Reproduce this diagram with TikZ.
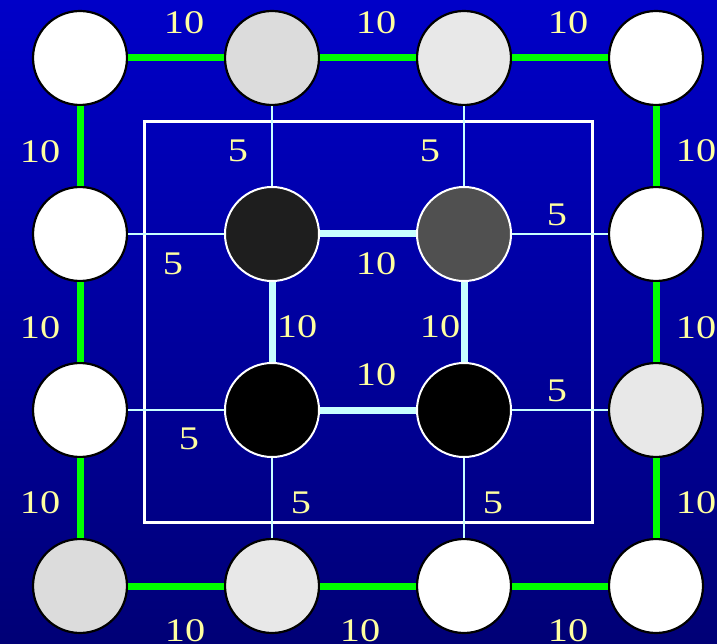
\documentclass[tikz,border=0pt]{standalone}
\usepackage{fontspec}
\newfontfamily\labfont[FakeStretch=1.22]{Liberation Serif}
\definecolor{bgtop}{RGB}{0,0,200}
\definecolor{bgbot}{RGB}{0,0,118}
\definecolor{labcol}{RGB}{255,255,160}
\definecolor{cyanl}{RGB}{200,255,255}
\definecolor{lgreen}{RGB}{0,255,0}
\definecolor{gA}{RGB}{220,220,220}
\definecolor{gB}{RGB}{232,232,232}
\definecolor{dA}{RGB}{30,30,30}
\definecolor{dB}{RGB}{80,80,80}
\begin{document}
\begin{tikzpicture}[x=1pt,y=-1pt,
  outernode/.style={circle,draw=black,line width=2.2pt,minimum size=94pt,inner sep=0pt},
  innernode/.style={circle,draw=white,line width=2pt,minimum size=94pt,inner sep=0pt},
  greenedge/.style={draw=lgreen,line width=7pt},
  thickedge/.style={draw=cyanl,line width=7pt},
  thinedge/.style={draw=cyanl,line width=1.5pt},
  frame/.style={draw=white,line width=3pt},
  lbl/.style={text=labcol,font=\labfont\fontsize{33}{33}\selectfont,inner sep=0pt}
]
\useasboundingbox (0,0) rectangle (717,644);
\shade[top color=bgtop,bottom color=bgbot] (0,0) rectangle (717,644);
\draw[frame] (144,122) rectangle (592,522);
% nodes
\node[outernode,fill=white] (n11) at (80,58) {};
\node[outernode,fill=gA]    (n12) at (272,58) {};
\node[outernode,fill=gB]    (n13) at (464,58) {};
\node[outernode,fill=white] (n14) at (656,58) {};
\node[outernode,fill=white] (n21) at (80,234) {};
\node[innernode,fill=dA]    (n22) at (272,234) {};
\node[innernode,fill=dB]    (n23) at (464,234) {};
\node[outernode,fill=white] (n24) at (656,234) {};
\node[outernode,fill=white] (n31) at (80,410) {};
\node[innernode,fill=black] (n32) at (272,410) {};
\node[innernode,fill=black] (n33) at (464,410) {};
\node[outernode,fill=gB]    (n34) at (656,410) {};
\node[outernode,fill=gA]    (n41) at (80,586) {};
\node[outernode,fill=gB]    (n42) at (272,586) {};
\node[outernode,fill=white] (n43) at (464,586) {};
\node[outernode,fill=white] (n44) at (656,586) {};
% green edges
\draw[greenedge] (n11) -- (n12);
\draw[greenedge] (n12) -- (n13);
\draw[greenedge] (n13) -- (n14);
\draw[greenedge] (n11) -- (n21);
\draw[greenedge] (n21) -- (n31);
\draw[greenedge] (n31) -- (n41);
\draw[greenedge] (n14) -- (n24);
\draw[greenedge] (n24) -- (n34);
\draw[greenedge] (n34) -- (n44);
\draw[greenedge] (n41) -- (n42);
\draw[greenedge] (n42) -- (n43);
\draw[greenedge] (n43) -- (n44);
% inner thick edges
\draw[thickedge] (n22) -- (n23);
\draw[thickedge] (n22) -- (n32);
\draw[thickedge] (n23) -- (n33);
\draw[thickedge] (n32) -- (n33);
% thin edges
\draw[thinedge] (n12) -- (n22);
\draw[thinedge] (n13) -- (n23);
\draw[thinedge] (n21) -- (n22);
\draw[thinedge] (n23) -- (n24);
\draw[thinedge] (n31) -- (n32);
\draw[thinedge] (n33) -- (n34);
\draw[thinedge] (n32) -- (n42);
\draw[thinedge] (n33) -- (n43);
% labels
\node[lbl] (t1) at (184,23) {10};
\node[lbl] (t2) at (376,23) {10};
\node[lbl] (t3) at (568,23) {10};
\node[lbl] (lf1) at (40,152) {10};
\node[lbl] (lf2) at (40,328) {10};
\node[lbl] (lf3) at (40,503) {10};
\node[lbl] (rt1) at (696,151) {10};
\node[lbl] (rt2) at (696,328) {10};
\node[lbl] (rt3) at (696,503) {10};
\node[lbl] (b1) at (185,631) {10};
\node[lbl] (b2) at (360,631) {10};
\node[lbl] (b3) at (568,631) {10};
\node[lbl] (i1) at (238,151) {5};
\node[lbl] (i2) at (430,151) {5};
\node[lbl] (i3) at (173,264) {5};
\node[lbl] (i4) at (557,215) {5};
\node[lbl] (i5) at (376,264) {10};
\node[lbl] (i6) at (297,327) {10};
\node[lbl] (i7) at (440,327) {10};
\node[lbl] (i8) at (376,375) {10};
\node[lbl] (i9) at (557,391) {5};
\node[lbl] (i10) at (189,439) {5};
\node[lbl] (i11) at (301,503) {5};
\node[lbl] (i12) at (493,503) {5};
\end{tikzpicture}
\end{document}
